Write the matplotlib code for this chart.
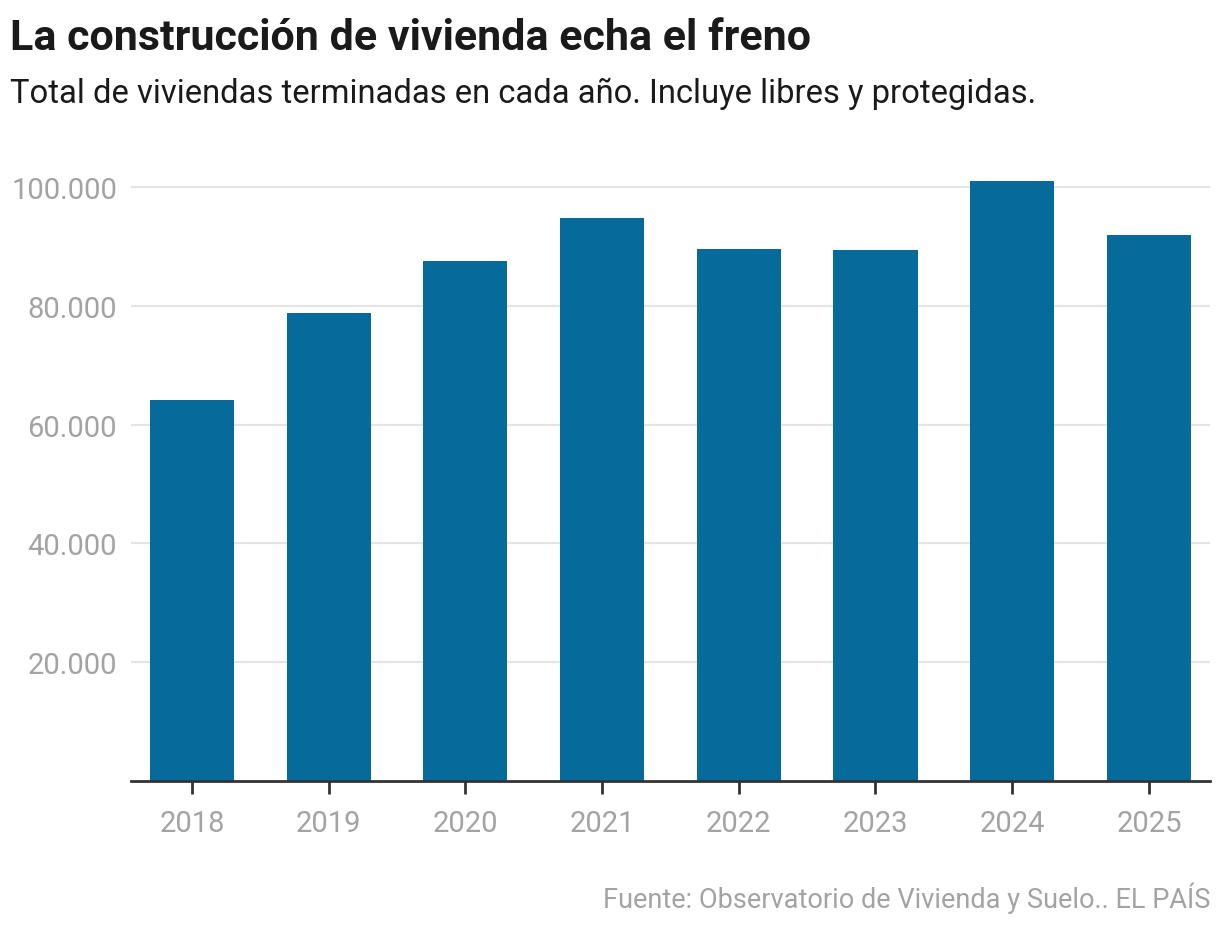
import matplotlib
matplotlib.use("Agg")
import matplotlib.pyplot as plt
from matplotlib.ticker import FuncFormatter

years = ["2018", "2019", "2020", "2021", "2022", "2023", "2024", "2025"]
viviendas = [64100, 78750, 87500, 94800, 89500, 89400, 101000, 91900]
y_ticks = [20000, 40000, 60000, 80000, 100000]

BAR_COLOR = "#066a9b"
GRAY = "#a3a3a3"
DARK = "#1a1a1a"

plt.rcParams["font.family"] = ["Roboto", "DejaVu Sans"]

fig = plt.figure(figsize=(12.2, 9.28), dpi=100)
ax = fig.add_axes([131 / 1220, 1 - 782 / 928, (1210 - 131) / 1220, (782 - 150) / 928])

x = range(len(years))
ax.bar(x, viviendas, width=0.615, color=BAR_COLOR, zorder=3)

ax.set_xlim(-0.446, 7.447)
ax.set_ylim(0, 100000 * 632 / 594)
ax.set_yticks(y_ticks)
ax.yaxis.set_major_formatter(FuncFormatter(lambda v, _: f"{int(v):,}".replace(",", ".")))
ax.set_xticks(list(x))
ax.set_xticklabels(years)

ax.grid(axis="y", color="#e4e4e4", linewidth=1.6, zorder=0)
for side in ["top", "right", "left"]:
    ax.spines[side].set_visible(False)
ax.spines["bottom"].set_color("#333333")
ax.spines["bottom"].set_linewidth(2)
ax.spines["bottom"].set_zorder(4)

ax.tick_params(axis="y", length=0, pad=10, labelsize=21, labelcolor=GRAY)
ax.tick_params(axis="x", length=9, width=2, color="#333333", pad=11,
               labelsize=21, labelcolor=GRAY)

fig.text(10 / 1220, 1 - 38 / 928, "La construcción de vivienda echa el freno",
         fontsize=31, fontweight="bold", color=DARK, va="center", ha="left")
fig.text(10 / 1220, 1 - 94 / 928,
         "Total de viviendas terminadas en cada año. Incluye libres y protegidas.",
         fontsize=23.6, color=DARK, va="center", ha="left")
fig.text(1210 / 1220, 1 - 898 / 928, "Fuente: Observatorio de Vivienda y Suelo.. EL PAÍS",
         fontsize=19.5, color=GRAY, va="center", ha="right")

fig.savefig("out.png", dpi=100)
